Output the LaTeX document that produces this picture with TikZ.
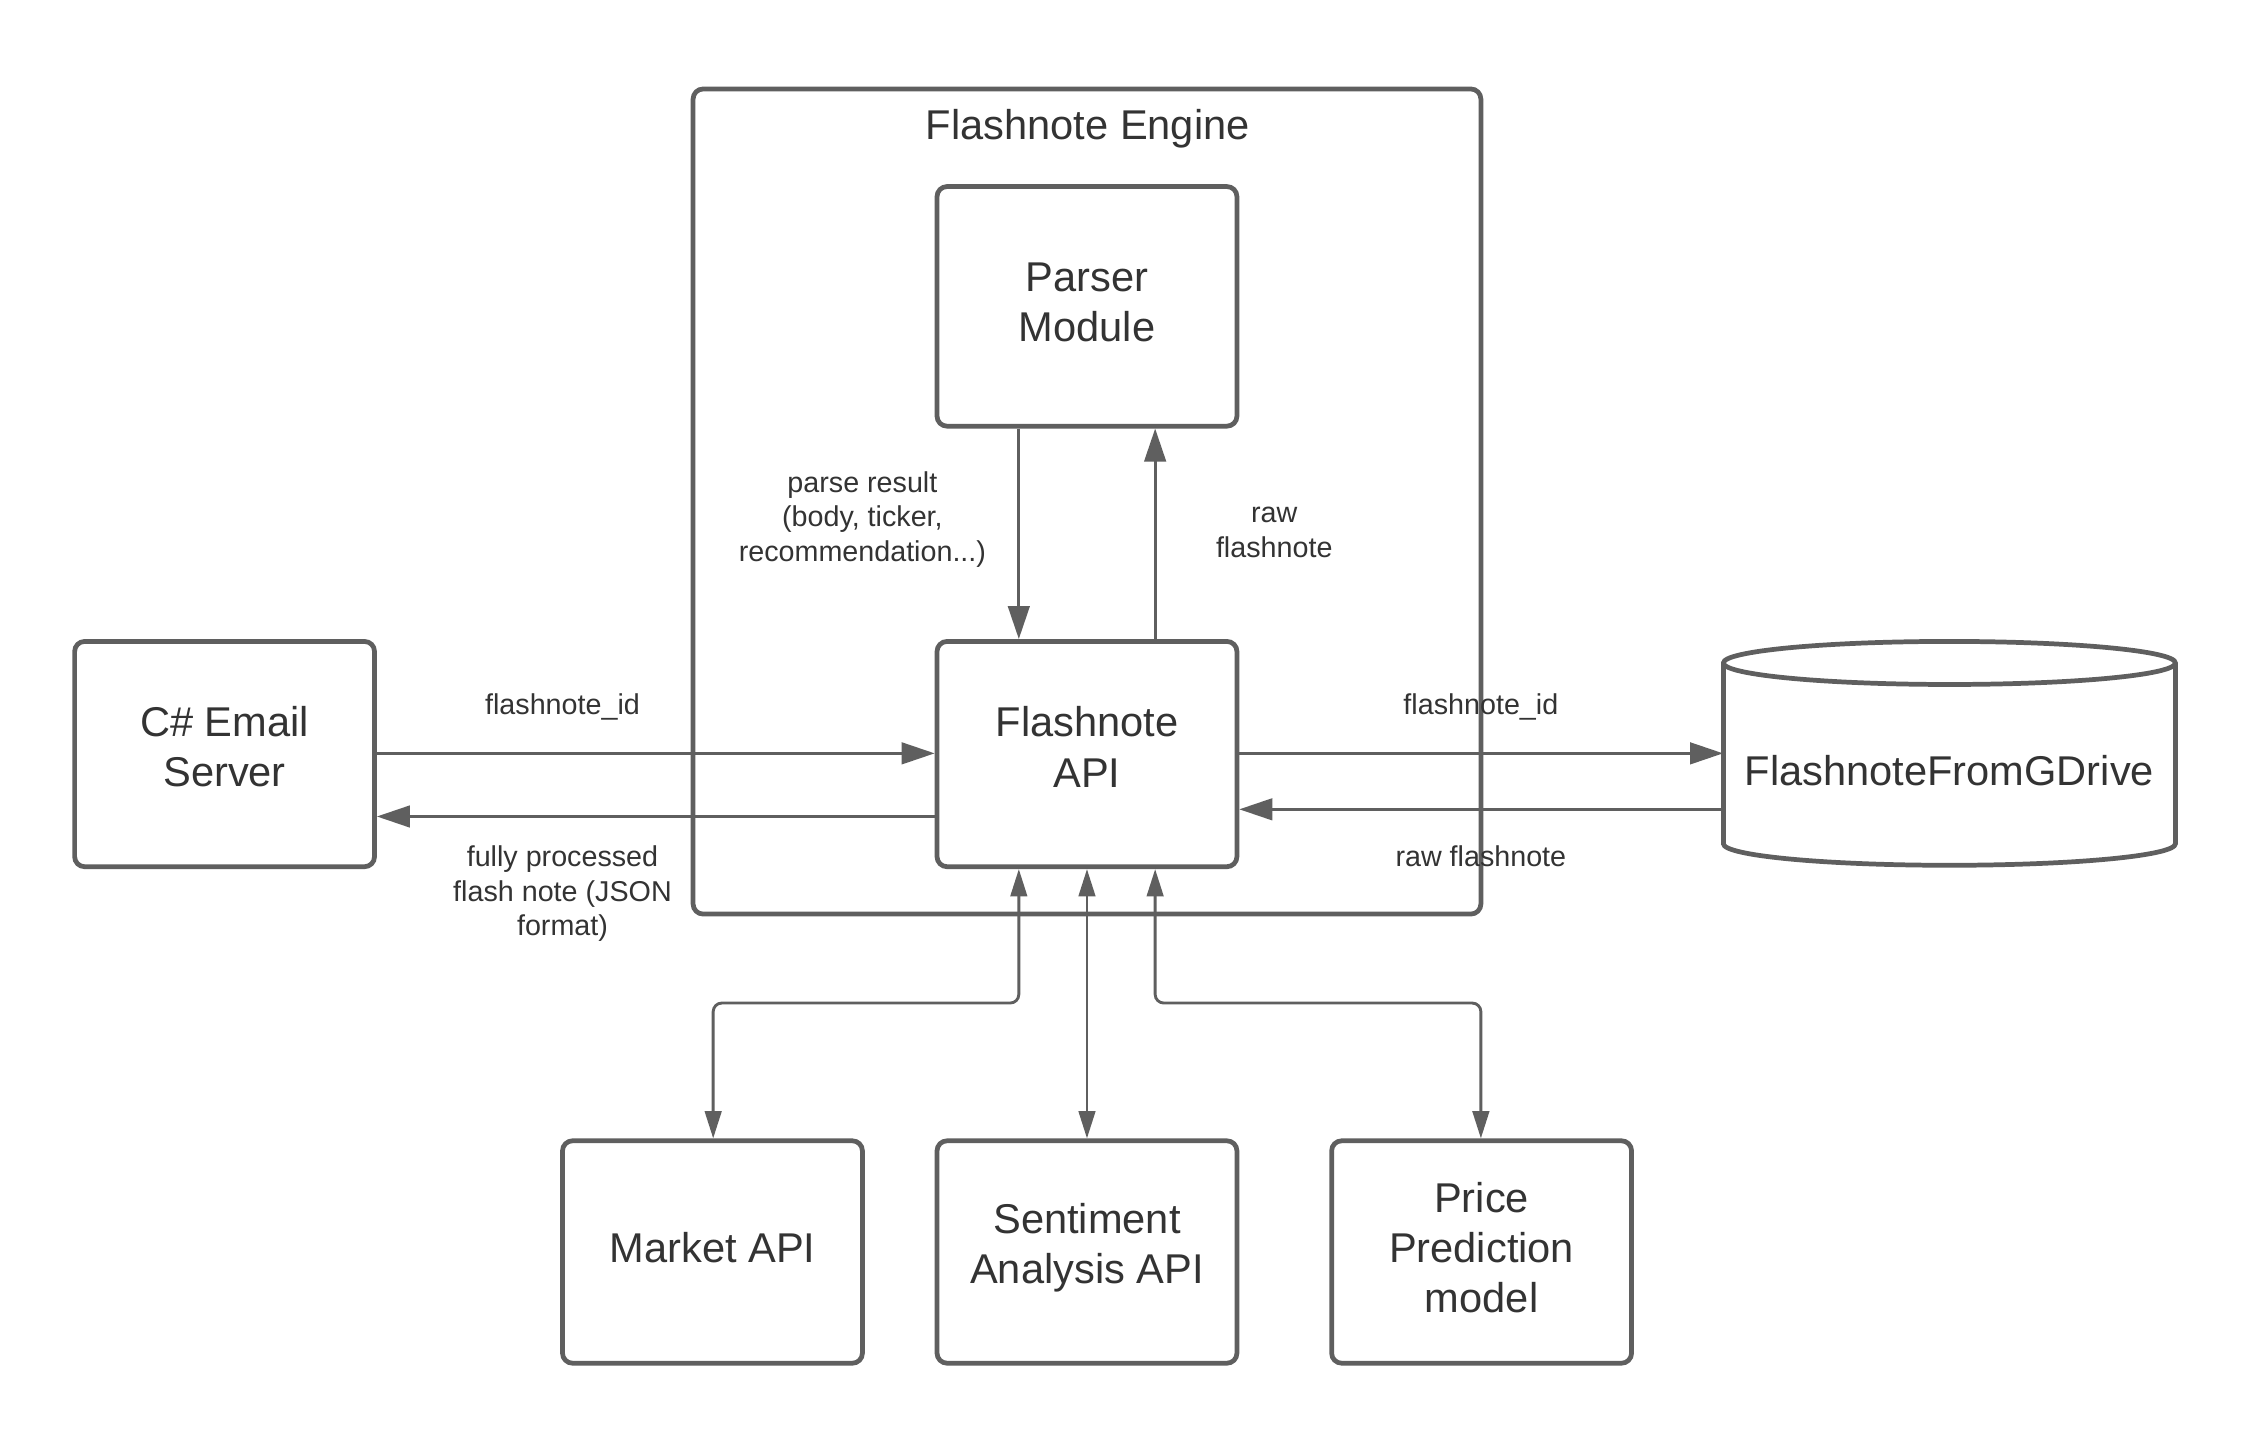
\documentclass[tikz,border=0pt]{standalone}
\usepackage{fontspec}
\setmainfont{Liberation Sans}
\usetikzlibrary{arrows.meta}
\definecolor{ln}{HTML}{5F5F5F}
\definecolor{tx}{HTML}{333333}
\tikzset{
  box/.style={draw=ln, line width=3.3pt, rounded corners=7pt, fill=white, inner sep=0pt},
  boxtext/.style={text=tx, font=\fontsize{29}{35}\selectfont, align=center, inner sep=0pt},
  lbl/.style={text=tx, font=\fontsize{20}{24}\selectfont, align=center, inner sep=0pt},
  conn/.style={draw=ln, line width=2pt, -{Triangle[length=23pt,width=15pt]}},
  conns/.style={draw=ln, line width=2pt, rounded corners=6pt,
    {Triangle[length=19pt,width=11.5pt]}-{Triangle[length=19pt,width=11.5pt]}},
}
\begin{document}
\begin{tikzpicture}[x=1pt,y=-1pt]
\useasboundingbox[fill=white] (0,0) rectangle (1568,1003.5);
% container
\node[draw=ln, line width=3.3pt, rounded corners=7pt, minimum width=549pt, minimum height=575pt, inner sep=0pt] (engine) at (757.5,349.5) {};
\node[boxtext] (enginetitle) at (758,89.5) {Flashnote Engine};
% boxes
\node[box, minimum width=209pt, minimum height=167pt,
  label={[boxtext, yshift=3pt]center:Parser\\Module}] (parser) at (757.5,213.5) {};
\node[box, minimum width=209pt, minimum height=157pt,
  label={[boxtext, yshift=5pt]center:Flashnote\\API}] (api) at (757.5,525.5) {};
\node[box, minimum width=209pt, minimum height=157pt,
  label={[boxtext, yshift=5pt]center:C\# Email\\Server}] (email) at (156.5,525.5) {};
\node[box, minimum width=209pt, minimum height=155pt,
  label={[boxtext, yshift=3pt]center:Market API}] (market) at (496.5,872.5) {};
\node[box, minimum width=209pt, minimum height=155pt,
  label={[boxtext, yshift=3pt]center:Sentiment\\Analysis API}] (senti) at (757.5,872.5) {};
\node[box, minimum width=209pt, minimum height=155pt,
  label={[boxtext, yshift=3pt]center:Price\\Prediction\\model}] (price) at (1032.5,872.5) {};
% cylinder
\node[minimum width=315pt, minimum height=156pt, inner sep=0pt] (gdrive) at (1358.5,525) {};
\draw[draw=ln, line width=3.3pt, fill=white]
  (1201,462) -- (1201,588) arc[start angle=180, end angle=360, x radius=157.5pt, y radius=15pt]
  -- (1516,462) arc[start angle=0, end angle=180, x radius=157.5pt, y radius=15pt] -- cycle;
\draw[draw=ln, line width=3.3pt] (1201,462) arc[start angle=180, end angle=360, x radius=157.5pt, y radius=15pt];
\node[boxtext] (gdrivetext) at (1358.5,537) {FlashnoteFromGDrive};
% parser <-> api
\draw[conn] (parser.south -| 710,0) -- (api.north -| 710,0);
\draw[conn] (api.north -| 805,0) -- (parser.south -| 805,0);
\node[lbl] (lparse) at (601,362) {parse result\\(body, ticker,\\recommendation...)};
\node[lbl] (lraw) at (888,371) {raw\\flashnote};
% email <-> api
\draw[conn] (email.east |- 0,525) -- (api.west |- 0,525);
\draw[conn] (api.west |- 0,569) -- (email.east |- 0,569);
\node[lbl] (lid1) at (392,493) {flashnote\_id};
\node[lbl] (lfull) at (392,623) {fully processed\\flash note (JSON\\format)};
% api <-> gdrive
\draw[conn] (api.east |- 0,525) -- (gdrive.west |- 0,525);
\draw[conn] (gdrive.west |- 0,564) -- (api.east |- 0,564);
\node[lbl] (lid2) at (1032,493) {flashnote\_id};
\node[lbl] (lraw2) at (1032,597) {raw flashnote};
% bottom
\draw[conns] (api.south -| 710,0) -- (710,699) -- (497,699) -- (market.north -| 497,0);
\draw[conns] (api.south) -- (senti.north);
\draw[conns] (api.south -| 805,0) -- (805,699) -- (1032,699) -- (price.north -| 1032,0);
\end{tikzpicture}
\end{document}
